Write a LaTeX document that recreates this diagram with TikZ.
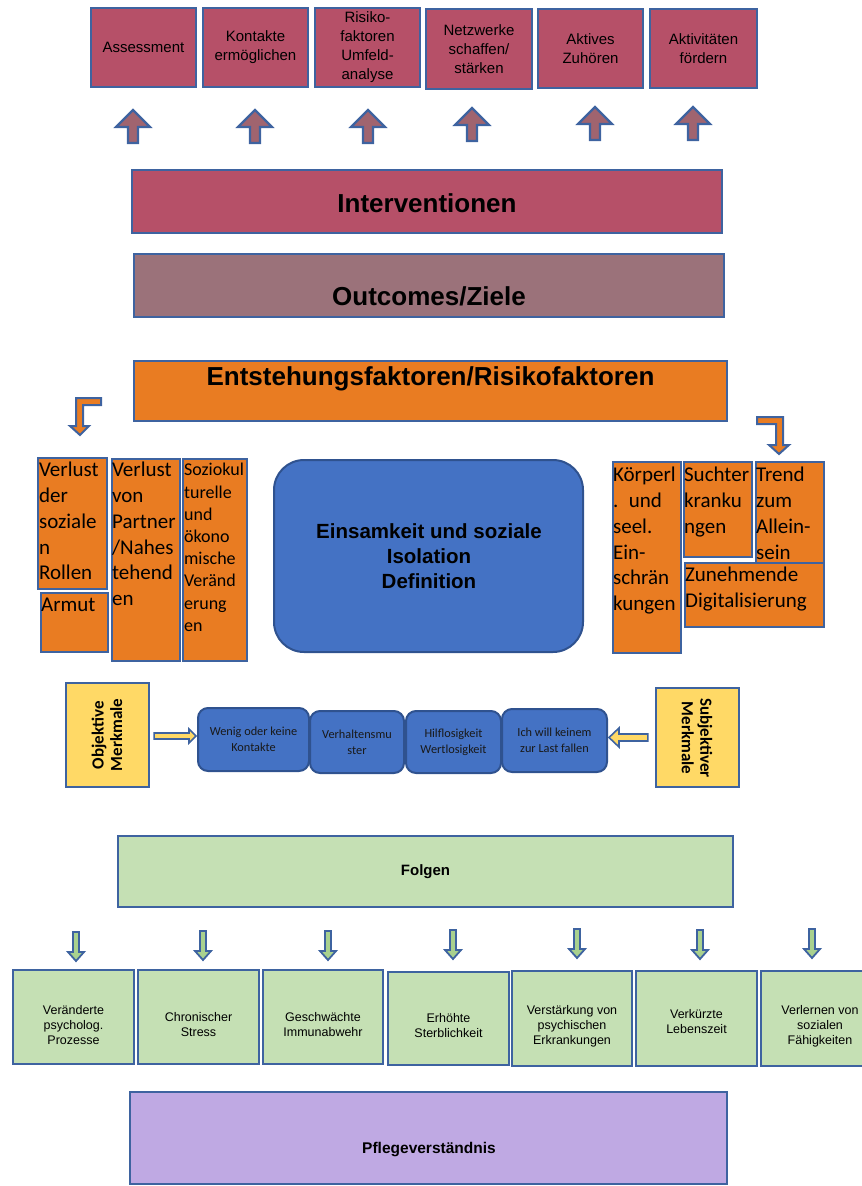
\documentclass[tikz,border=0pt]{standalone}
\usepackage{fontspec}
\setmainfont{Liberation Sans}
\newfontfamily\calib{Carlito}
\usetikzlibrary{calc}
\definecolor{crim}{HTML}{B65068}
\definecolor{bord}{HTML}{3E63A0}
\definecolor{dbord}{HTML}{2F528F}
\definecolor{upfill}{HTML}{A0646F}
\definecolor{outc}{HTML}{9B727A}
\definecolor{orng}{HTML}{E97C22}
\definecolor{cblue}{HTML}{4472C4}
\definecolor{yell}{HTML}{FFD966}
\definecolor{grn}{HTML}{C5E0B4}
\definecolor{dgrn}{HTML}{A9D18E}
\definecolor{lav}{HTML}{BFA9E3}
\begin{document}
\begin{tikzpicture}[x=1pt,y=-1pt,
  box/.style={draw=bord, line width=2.4pt, inner sep=0pt, align=center},
  tbox/.style={box, fill=crim, font=\fontsize{15}{19}\selectfont},
  bigbox/.style={box, line width=2.2pt},
  bigtxt/.style={inner sep=0pt, font=\bfseries\fontsize{26}{30}\selectfont},
  obox/.style={box, fill=orng, line width=2.2pt},
  otxt/.style={anchor=base west, inner sep=0pt, align=left, text width=140pt, font=\calib\fontsize{21}{25.7}\selectfont},
  ctxt/.style={otxt, font=\calib\fontsize{18}{22.2}\selectfont},
  sbox/.style={draw=dbord, line width=2pt, fill=cblue, rounded corners=10pt, inner sep=0pt, align=center, font=\calib\fontsize{12.3}{16}\selectfont, text=black!90},
  ybox/.style={box, fill=yell, line width=2.2pt},
  ytxt/.style={inner sep=0pt, align=center, font=\calib\bfseries\fontsize{17}{18.5}\selectfont},
  gbox/.style={box, fill=grn, line width=2.4pt},
  gtxt/.style={inner sep=0pt, align=center, font=\fontsize{12.5}{15}\selectfont},
  arrbord/.style={draw=bord, line width=2.2pt, line join=miter},
  uparr/.pic={\draw[arrbord, fill=upfill] (0,0) -- (17,17) -- (5,17) -- (5,33) -- (-5,33) -- (-5,17) -- (-17,17) -- cycle;},
  dnarr/.pic={\draw[arrbord, line width=1.8pt, fill=dgrn] (0,0) -- (8,-9) -- (3,-9) -- (3,-29) -- (-3,-29) -- (-3,-9) -- (-8,-9) -- cycle;},
  yarrow/.style={draw=bord, line width=1.6pt, fill=yell, line join=miter}
]
\useasboundingbox (0,0) rectangle (862,1186);
\clip (0,0) rectangle (862,1186);

% top intervention boxes
\node[tbox, minimum width=105pt, minimum height=79pt] (t1) at (143.5,47.5) {Assessment};
\node[tbox, minimum width=105pt, minimum height=79pt] (t2) at (255.5,47.5) {Kontakte\\ermöglichen};
\node[tbox, minimum width=105pt, minimum height=79pt] (t3) at (367.5,47.5) {Risiko-\\faktoren\\Umfeld-\\analyse};
\node[tbox, minimum width=106pt, minimum height=80pt] (t4) at (479,49) {Netzwerke\\schaffen/\\stärken};
\node[tbox, minimum width=105pt, minimum height=79pt] (t5) at (590.5,48.5) {Aktives\\Zuhören};
\node[tbox, minimum width=107pt, minimum height=79pt] (t6) at (703.5,48.5) {Aktivitäten\\fördern};

% up arrows
\pic at (133,110) {uparr};
\pic at (255,110) {uparr};
\pic at (368,110) {uparr};
\pic at (472,108) {uparr};
\pic at (595,107) {uparr};
\pic at (693,107) {uparr};

% big bars
\node[bigbox, fill=crim, minimum width=590pt, minimum height=63pt] (interv) at (427,201.5) {};
\node[bigtxt] (intervt) at (427,203) {Interventionen};
\node[bigbox, fill=outc, minimum width=590pt, minimum height=63pt] (outc) at (429,285.5) {};
\node[bigtxt] (outct) at (429,296) {Outcomes/Ziele};
\node[bigbox, fill=orng, minimum width=593pt, minimum height=60pt] (entst) at (430.5,391) {};
\node[bigtxt] (entstt) at (430.5,379) {Entstehungsfaktoren/Risikofaktoren};

% bent arrows
\draw[arrbord, line width=2pt, fill=orng] (101,398) -- (76,398) -- (76,426) -- (70,426) -- (80,435) -- (89,426) -- (83,426) -- (83,405) -- (101,405) -- cycle;
\draw[arrbord, line width=2pt, fill=orng] (757,417) -- (783,417) -- (783,445) -- (789,445) -- (779,454) -- (769,445) -- (776,445) -- (776,424) -- (757,424) -- cycle;

% left orange boxes
\node[obox, minimum width=69pt, minimum height=131pt] (oa) at (72.5,523.5) {};
\node[otxt] (oat) at ($(oa.north west)+(2,20)$) {Verlust\\der\\soziale\\n\\Rollen};
\node[obox, minimum width=67pt, minimum height=59pt] (arm) at (74.5,622.5) {};
\node[otxt] (armt) at ($(arm.north west)+(1,20)$) {Armut};
\node[obox, minimum width=68pt, minimum height=202pt] (ob) at (146,560) {};
\node[otxt] (obt) at ($(ob.north west)+(1,19)$) {Verlust\\von\\Partner\\/Nahes\\tehend\\en};
\node[obox, minimum width=64pt, minimum height=202pt] (oc) at (215,560) {};
\node[ctxt] (oct) at ($(oc.north west)+(2,18)$) {Soziokul\\turelle\\und\\ökono\\mische\\Veränd\\erung\\en};

% center
\node[draw=dbord, line width=2pt, fill=cblue, rounded corners=30pt, minimum width=309pt, minimum height=192pt, inner sep=0pt] (einsam) at (428.5,556) {};
\node[inner sep=0pt, align=center, text=black, font=\bfseries\fontsize{20.5}{25}\selectfont] (einsamt) at (429,556) {Einsamkeit und soziale\\Isolation\\Definition};

% right orange boxes
\node[obox, minimum width=68pt, minimum height=191pt] (od) at (647,557.5) {};
\node[otxt] (odt) at ($(od.north west)+(1,21)$) {Körperl\\. und\\seel.\\Ein-\\schrän\\kungen};
\node[obox, minimum width=68pt, minimum height=95pt] (oe) at (718,509.5) {};
\node[otxt] (oet) at ($(oe.north west)+(1,21)$) {Suchter\\kranku\\ngen};
\node[obox, minimum width=68pt, minimum height=101pt] (of) at (790,512.5) {};
\node[otxt] (oft) at ($(of.north west)+(1,21)$) {Trend\\zum\\Allein-\\sein};
\node[obox, minimum width=139pt, minimum height=64pt] (og) at (754.5,595) {};
\node[otxt] (ogt) at ($(og.north west)+(1,20)$) {Zunehmende\\Digitalisierung};

% Merkmale
\node[ybox, minimum width=83pt, minimum height=104pt] (obj) at (107.5,735) {};
\node[ytxt, rotate=90] (objt) at (107,735) {Objektive\\Merkmale};
\node[ybox, minimum width=83pt, minimum height=99pt] (subj) at (697.5,737.5) {};
\node[ytxt, rotate=-90] (subjt) at (697,738) {Subjektiver\\Merkmale};

\node[sbox, minimum width=111pt, minimum height=63pt] (b1) at (253.5,739.5) {Wenig oder keine\\Kontakte};
\node[sbox, minimum width=94pt, minimum height=62pt] (b2) at (357,742) {Verhaltensmu\\ster};
\node[sbox, minimum width=95pt, minimum height=62pt] (b3) at (453.5,742) {Hilflosigkeit\\Wertlosigkeit};
\node[sbox, minimum width=105pt, minimum height=63pt] (b4) at (554.5,740.5) {Ich will keinem\\zur Last fallen};

% yellow arrows
\coordinate (ylS) at ($(obj.east)+(4,1)$);
\coordinate (ylT) at ($(b1.west |- obj.east)+(-1,1)$);
\draw[yarrow] ($(ylS)+(0,-3)$) -- ($(ylT)+(-7,-3)$) -- ($(ylT)+(-7,-7)$) -- (ylT) -- ($(ylT)+(-7,7)$) -- ($(ylT)+(-7,3)$) -- ($(ylS)+(0,3)$) -- cycle;
\coordinate (yrS) at ($(subj.west)+(-7,0)$);
\coordinate (yrT) at ($(b4.east |- subj.west)+(1,0)$);
\draw[yarrow] ($(yrS)+(0,-3.5)$) -- ($(yrT)+(10,-3.5)$) -- ($(yrT)+(10,-9.5)$) -- (yrT) -- ($(yrT)+(10,9.5)$) -- ($(yrT)+(10,3.5)$) -- ($(yrS)+(0,3.5)$) -- cycle;

% Folgen
\node[gbox, minimum width=615pt, minimum height=71pt, font=\bfseries\fontsize{15}{18}\selectfont] (folgen) at (425.5,871.5) {Folgen};

\pic at (76,961) {dnarr};
\pic at (203,960) {dnarr};
\pic at (328,960) {dnarr};
\pic at (453,959) {dnarr};
\pic at (577,958) {dnarr};
\pic at (700,959) {dnarr};
\pic at (812,958) {dnarr};

\node[gbox, minimum width=121pt, minimum height=94pt] (g1) at (73.5,1017) {};
\node[gtxt] (g1t) at (73.5,1025) {Veränderte\\psycholog.\\Prozesse};
\node[gbox, minimum width=121pt, minimum height=94pt] (g2) at (198.5,1017) {};
\node[gtxt] (g2t) at (198.5,1025) {Chronischer\\Stress};
\node[gbox, minimum width=120pt, minimum height=94pt] (g3) at (323,1017) {};
\node[gtxt] (g3t) at (323,1025) {Geschwächte\\Immunabwehr};
\node[gbox, minimum width=121pt, minimum height=93pt] (g4) at (448.5,1018.5) {};
\node[gtxt] (g4t) at (448.5,1026) {Erhöhte\\Sterblichkeit};
\node[gbox, minimum width=120pt, minimum height=95pt] (g5) at (572,1018.5) {};
\node[gtxt] (g5t) at (572,1026) {Verstärkung von\\psychischen\\Erkrankungen};
\node[gbox, minimum width=121pt, minimum height=95pt] (g6) at (696.5,1018.5) {};
\node[gtxt] (g6t) at (696.5,1022) {Verkürzte\\Lebenszeit};
\node[gbox, minimum width=121pt, minimum height=95pt] (g7) at (821.5,1018.5) {};
\node[gtxt] (g7t) at (820,1026) {Verlernen von\\sozialen\\Fähigkeiten};

\node[gbox, fill=lav, minimum width=597pt, minimum height=92pt] (pflege) at (428.5,1138) {};
\node[inner sep=0pt, font=\bfseries\fontsize{15.5}{18}\selectfont] (pflegt) at (429,1150) {Pflegeverständnis};
\end{tikzpicture}
\end{document}
